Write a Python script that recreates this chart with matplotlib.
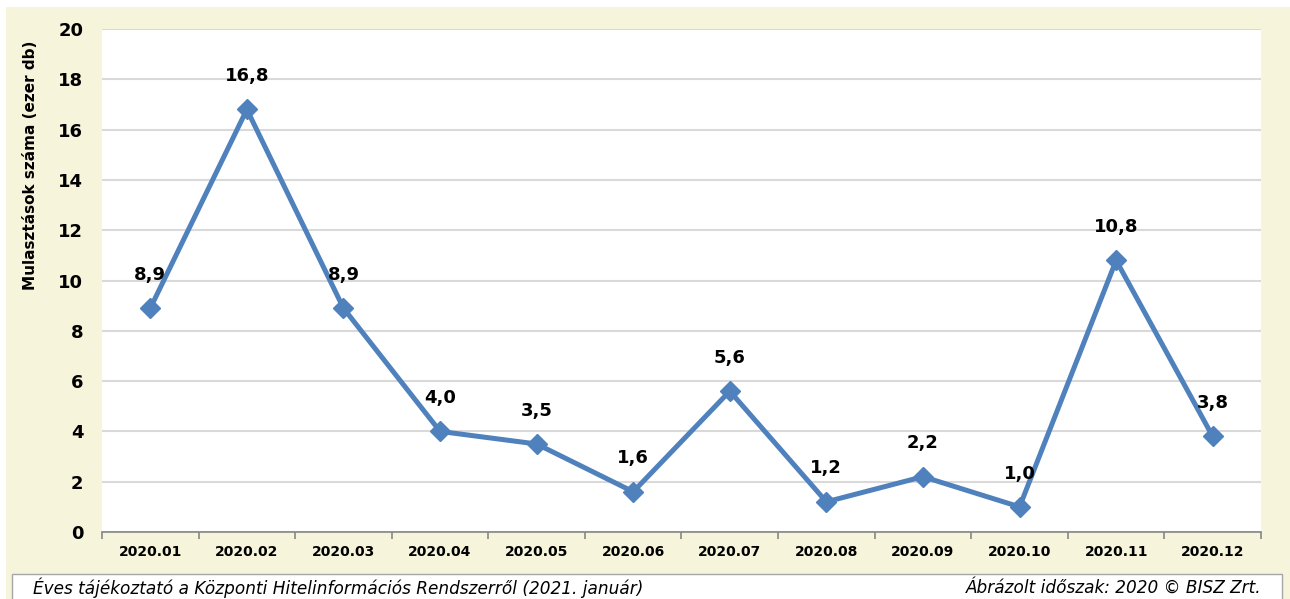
"""Mulasztások száma havonta, 2020 (ezer db)."""

import matplotlib
import numpy as np

matplotlib.use("Agg")
import matplotlib.pyplot as plt
from matplotlib.patches import Rectangle

MONTHS = ["2020.01", "2020.02", "2020.03", "2020.04", "2020.05", "2020.06",
          "2020.07", "2020.08", "2020.09", "2020.10", "2020.11", "2020.12"]
VALUES = [8.9, 16.8, 8.9, 4.0, 3.5, 1.6, 5.6, 1.2, 2.2, 1.0, 10.8, 3.8]
Y_TICKS = [0, 2, 4, 6, 8, 10, 12, 14, 16, 18, 20]

LINE = "#4F81BD"   # excel blue
BG = "#F6F4DA"     # beige frame
GRID = "#D9D9D9"

FOOT_LEFT = "Éves tájékoztató a Központi Hitelinformációs Rendszerről (2021. január)"
FOOT_RIGHT = "Ábrázolt időszak: 2020 © BISZ Zrt."


def main() -> None:
    fig = plt.figure(figsize=(12.9, 5.99), dpi=100)
    fig.patch.set_facecolor("white")

    # beige frame behind the chart
    fig.patches.append(Rectangle((6 / 1290, 0), 1, 1 - 7 / 599,
                                 transform=fig.transFigure, facecolor=BG,
                                 edgecolor="none", zorder=-2))
    # footer box
    fig.patches.append(Rectangle((12 / 1290, -0.01), 1270 / 1290, 31 / 599,
                                 transform=fig.transFigure, facecolor="white",
                                 edgecolor="#A6A6A6", linewidth=1, zorder=-1))

    ax = fig.add_axes([102 / 1290, 1 - 532 / 599, 1159 / 1290, 503 / 599])
    ax.set_facecolor("white")

    x = np.arange(len(MONTHS))
    ax.plot(x, VALUES, color=LINE, linewidth=3.6, marker="D", markersize=10,
            zorder=3, clip_on=False)
    for xi, v in zip(x, VALUES):
        ax.annotate(f"{v:.1f}".replace(".", ","), (xi, v), xytext=(0, 24),
                    textcoords="offset points", ha="center", va="center",
                    fontsize=13, fontweight="bold", color="black")

    ax.set_xlim(-0.5, len(MONTHS) - 0.5)
    ax.set_ylim(0, 20)
    ax.set_yticks(Y_TICKS)
    ax.set_yticklabels([str(t) for t in Y_TICKS], fontsize=13, fontweight="bold")
    ax.tick_params(axis="y", length=0, pad=13.5)

    ax.set_xticks(x)
    ax.set_xticklabels(MONTHS, fontsize=10, fontweight="bold")
    ax.set_xticks(np.arange(len(MONTHS) + 1) - 0.5, minor=True)
    ax.tick_params(axis="x", which="major", length=0, pad=9)
    ax.tick_params(axis="x", which="minor", length=5, color="#868686", width=1.2)

    ax.grid(axis="y", color=GRID, linewidth=1.5)
    ax.set_axisbelow(True)
    for side in ("top", "right", "left"):
        ax.spines[side].set_visible(False)
    ax.spines["bottom"].set_color("#868686")
    ax.spines["bottom"].set_linewidth(1.2)

    fig.text(31 / 1290, 1 - 165 / 599, "Mulasztások száma (ezer db)",
             rotation=90, ha="center", va="center", fontsize=11,
             fontweight="bold")

    fig.text(33 / 1290, 1 - 588 / 599, FOOT_LEFT, ha="left", va="center",
             fontsize=12.2, style="italic")
    fig.text(1262 / 1290, 1 - 588 / 599, FOOT_RIGHT, ha="right", va="center",
             fontsize=12.2, style="italic")

    fig.savefig("out.png", dpi=100, facecolor=fig.get_facecolor())


if __name__ == "__main__":
    main()
